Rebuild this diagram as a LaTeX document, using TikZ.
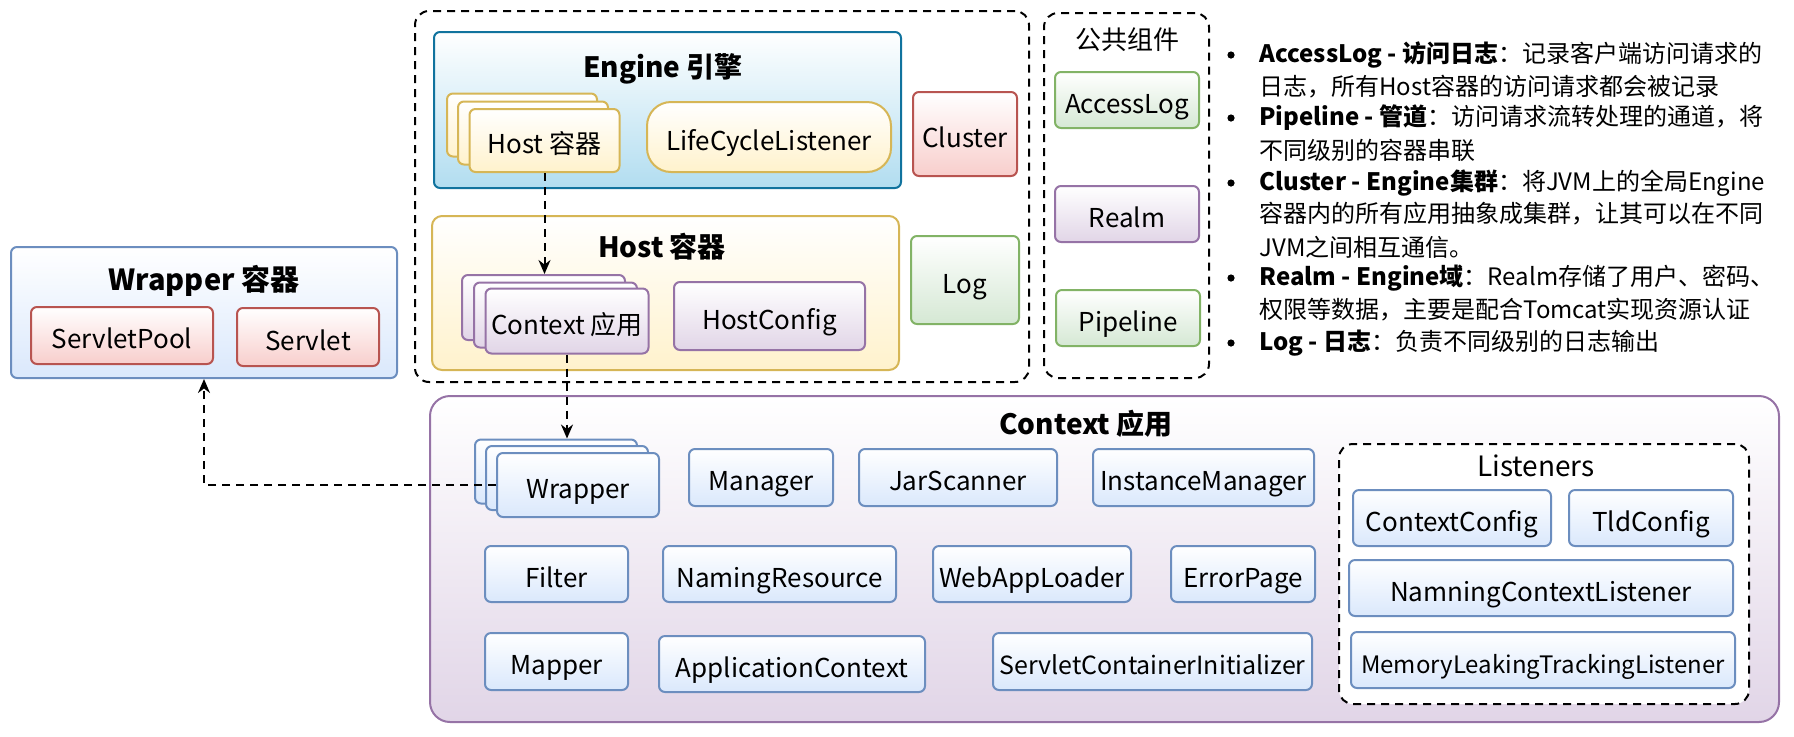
\documentclass[tikz,border=0pt]{standalone}
\usepackage{fontspec}
\setmainfont{Noto Sans CJK SC}
\usetikzlibrary{arrows.meta}

\definecolor{engline}{HTML}{10739E}
\definecolor{engfill}{HTML}{B1DDF0}
\definecolor{yelline}{HTML}{D6B656}
\definecolor{yelfill}{HTML}{FFF2CC}
\definecolor{redline}{HTML}{B85450}
\definecolor{redfill}{HTML}{F8CECC}
\definecolor{grnline}{HTML}{82B366}
\definecolor{grnfill}{HTML}{D5E8D4}
\definecolor{purline}{HTML}{9673A6}
\definecolor{purfill}{HTML}{E1D5E7}
\definecolor{bluline}{HTML}{6C8EBF}
\definecolor{blufill}{HTML}{DAE8FC}

\tikzset{
  box/.style={draw, line width=1pt, rounded corners=3pt, inner sep=0pt, align=center,
    text height=14pt, text depth=1pt, font=\fontsize{13}{15}\selectfont},
  bluebox/.style={box, draw=bluline, top color=white, bottom color=blufill},
  yelbox/.style={box, draw=yelline, top color=white, bottom color=yelfill},
  redbox/.style={box, draw=redline, top color=white, bottom color=redfill},
  grnbox/.style={box, draw=grnline, top color=white, bottom color=grnfill},
  purbox/.style={box, draw=purline, top color=white, bottom color=purfill},
  title/.style={font=\bfseries\fontsize{14}{16}\selectfont},
  plaintitle/.style={font=\fontsize{13.5}{16}\selectfont},
  group/.style={draw, line width=1pt, dash pattern=on 4pt off 3pt, rounded corners=7pt},
  link/.style={line width=1pt, dash pattern=on 4pt off 3pt, -{Stealth[length=7pt,width=6pt]}},
  notetext/.style={anchor=west, inner sep=0pt, font=\fontsize{12}{14}\selectfont},
  dot/.style={circle, fill=black, inner sep=0pt, minimum size=3.6pt}
}

\begin{document}
\begin{tikzpicture}[x=0.5pt, y=-0.5pt]
\useasboundingbox (0,0) rectangle (1794,736);

% Wrapper
\node[bluebox, minimum width=193pt, minimum height=65.5pt] (wrapper) at (204,312.5) {};
\node[title, font=\bfseries\fontsize{14.5}{16}\selectfont] (wrappertitle) at (204,281) {Wrapper 容器};
\node[redbox, minimum width=91pt, minimum height=28.5pt] (pool) at (122,335.5) {ServletPool};
\node[redbox, minimum width=71pt, minimum height=29pt] (servlet) at (308,337) {Servlet};

% Engine / Host
\node[group, minimum width=307pt, minimum height=185.5pt] (server) at (722,196.5) {};
\node[box, draw=engline, top color=white, bottom color=engfill, minimum width=233.5pt, minimum height=78pt] (engine) at (667.5,110) {};
\node[title] (enginetitle) at (663,69) {Engine 引擎};
\node[yelbox, minimum width=75pt, minimum height=31.5pt] (hostb) at (522,125) {};
\node[yelbox, minimum width=75pt, minimum height=31.5pt] (hostm) at (533,133) {};
\node[yelbox, minimum width=75pt, minimum height=31.5pt] (hostf) at (544.5,140.5) {Host 容器};
\node[yelbox, rounded corners=12pt, minimum width=122pt, minimum height=35pt] (lifecycle) at (769,137) {LifeCycleListener};
\node[redbox, minimum width=52pt, minimum height=42pt] (cluster) at (965,134) {Cluster};

\node[yelbox, rounded corners=5pt, minimum width=233.5pt, minimum height=77pt] (host) at (665.5,293) {};
\node[title] (hosttitle) at (662,247) {Host 容器};
\node[purbox, minimum width=81.5pt, minimum height=32.5pt] (ctxb) at (543.5,307.5) {};
\node[purbox, minimum width=81.5pt, minimum height=32.5pt] (ctxm) at (555.5,315) {};
\node[purbox, minimum width=81.5pt, minimum height=32.5pt] (ctxf) at (567,321) {Context 应用};
\node[purbox, minimum width=95.5pt, minimum height=34pt] (hostconfig) at (769.5,316) {HostConfig};
\node[grnbox, minimum width=54pt, minimum height=44pt] (log) at (965,280) {Log};

% public components
\node[group, minimum width=82.5pt, minimum height=182.5pt] (common) at (1126.5,195.5) {};
\node[plaintitle, font=\fontsize{13}{16}\selectfont] (commontitle) at (1127,40) {公共组件};
\node[grnbox, minimum width=72pt, minimum height=28pt] (accesslog) at (1127,100) {AccessLog};
\node[purbox, minimum width=72pt, minimum height=28pt] (realm) at (1127,214) {Realm};
\node[grnbox, minimum width=72pt, minimum height=28pt] (pipeline) at (1128,318) {Pipeline};

% notes
\node[dot] (dot1) at (1231,55) {};
\node[notetext] (n1) at (1259,55) {\textbf{AccessLog - 访问日志}：记录客户端访问请求的};
\node[notetext] (n2) at (1259,87) {日志，所有Host容器的访问请求都会被记录};
\node[dot] (dot2) at (1231,118) {};
\node[notetext] (n3) at (1259,118) {\textbf{Pipeline - 管道}：访问请求流转处理的通道，将};
\node[notetext] (n4) at (1259,150) {不同级别的容器串联};
\node[dot] (dot3) at (1231,183) {};
\node[notetext] (n5) at (1259,183) {\textbf{Cluster - Engine集群}：将JVM上的全局Engine};
\node[notetext] (n6) at (1259,214) {容器内的所有应用抽象成集群，让其可以在不同};
\node[notetext] (n7) at (1259,247) {JVM之间相互通信。};
\node[dot] (dot4) at (1231,278) {};
\node[notetext] (n8) at (1259,278) {\textbf{Realm - Engine域}：Realm存储了用户、密码、};
\node[notetext] (n9) at (1259,310) {权限等数据，主要是配合Tomcat实现资源认证};
\node[dot] (dot5) at (1231,343) {};
\node[notetext] (n10) at (1259,343) {\textbf{Log - 日志}：负责不同级别的日志输出};

% Context
\node[purbox, rounded corners=10pt, minimum width=674.5pt, minimum height=163pt] (context) at (1104.5,559) {};
\node[title] (contexttitle) at (1086,424) {Context 应用};
\node[bluebox, minimum width=81pt, minimum height=32pt] (wrpb) at (556,471.5) {};
\node[bluebox, minimum width=81pt, minimum height=32pt] (wrpm) at (567,478) {};
\node[bluebox, minimum width=81pt, minimum height=32pt] (wrpf) at (578,485) {Wrapper};
\node[bluebox, minimum width=72pt, minimum height=28.5pt] (manager) at (761,477.5) {Manager};
\node[bluebox, minimum width=99pt, minimum height=28.5pt] (jarscanner) at (958,477.5) {JarScanner};
\node[bluebox, minimum width=110.5pt, minimum height=28.5pt] (instmanager) at (1203.5,477.5) {InstanceManager};
\node[bluebox, minimum width=71.5pt, minimum height=28pt] (filter) at (556.5,574) {Filter};
\node[bluebox, minimum width=116.5pt, minimum height=28pt] (naming) at (779.5,574) {NamingResource};
\node[bluebox, minimum width=99pt, minimum height=28pt] (loader) at (1032,574) {WebAppLoader};
\node[bluebox, minimum width=72pt, minimum height=28pt] (errorpage) at (1243,574) {ErrorPage};
\node[bluebox, minimum width=71.5pt, minimum height=28.5pt] (mapper) at (556.5,661.5) {Mapper};
\node[bluebox, minimum width=133pt, minimum height=28pt] (appctx) at (792,664) {ApplicationContext};
\node[bluebox, font=\fontsize{12.5}{15}\selectfont, minimum width=159.5pt, minimum height=28.5pt] (initializer) at (1152.5,661.5) {ServletContainerInitializer};

% Listeners
\node[group, fill=white, minimum width=205pt, minimum height=130pt] (listeners) at (1544,574) {};
\node[plaintitle, font=\fontsize{14}{16}\selectfont] (listenerstitle) at (1536,466) {Listeners};
\node[bluebox, minimum width=99pt, minimum height=28pt] (ctxconfig) at (1452,518) {ContextConfig};
\node[bluebox, minimum width=82pt, minimum height=28pt] (tldconfig) at (1651,518) {TldConfig};
\node[bluebox, minimum width=192pt, minimum height=28pt] (namingctx) at (1541,588) {NamningContextListener};
\node[bluebox, font=\fontsize{12}{15}\selectfont, minimum width=192pt, minimum height=28pt] (memleak) at (1543,660) {MemoryLeakingTrackingListener};

\draw[link] (hostf.south) -- (hostf.south |- ctxb.north);
\draw[link] (ctxf.south) -- (ctxf.south |- wrpb.north);
\draw[link] (wrpf.west) -| (wrapper.south);
\end{tikzpicture}
\end{document}
